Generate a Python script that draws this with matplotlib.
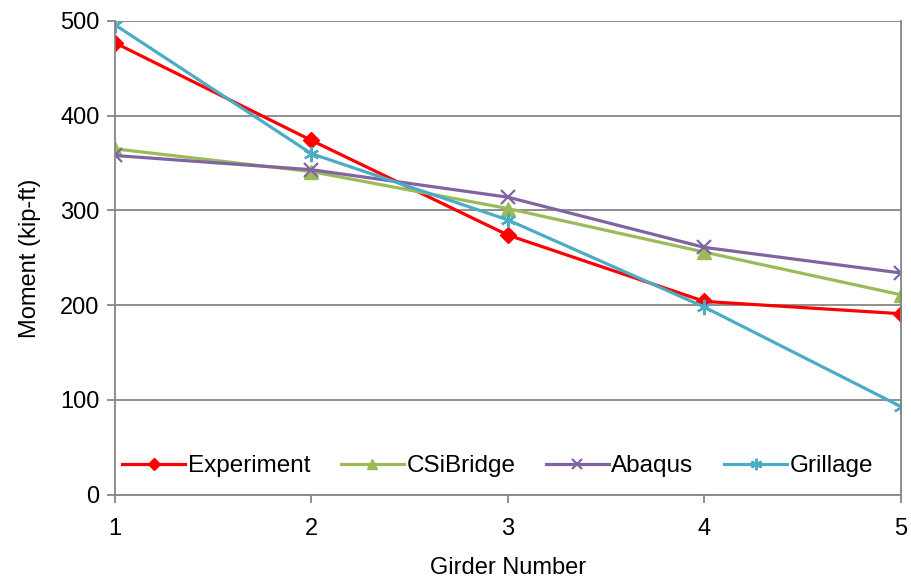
import matplotlib
matplotlib.use("Agg")
import matplotlib.pyplot as plt

plt.rcParams['font.family'] = ['Liberation Sans', 'DejaVu Sans']

girders = [1, 2, 3, 4, 5]
experiment = [477, 374, 274, 204, 191]
csibridge = [365, 341, 302, 256, 211]
abaqus = [358, 343, 314, 261, 234]
grillage = [496, 360, 290, 198, 93]

fig = plt.figure(figsize=(9.11, 5.82), dpi=100)
ax = fig.add_axes([0.126, 0.150, 0.863, 0.814])

lw = 2.3
ax.plot(girders, experiment, color='#FF0000', lw=lw, marker='D', ms=8, label='Experiment')
ax.plot(girders, csibridge, color='#9BBB59', lw=lw, marker='^', ms=10, label='CSiBridge')
ax.plot(girders, abaqus, color='#8064A2', lw=lw, marker='x', ms=10, mew=1.6, label='Abaqus')
ax.plot(girders, grillage, color='#4BACC6', lw=lw, marker=(6, 2, 0), ms=11, mew=1.6, label='Grillage')

ax.set_xlim(1, 5)
ax.set_ylim(0, 500)
ax.set_xticks(girders)
ax.set_yticks(range(0, 501, 100))
ax.grid(axis='y', color='#868686', lw=1.3)
ax.set_axisbelow(True)
for side in ['left', 'bottom', 'right']:
    ax.spines[side].set_color('#868686')
    ax.spines[side].set_linewidth(1.3)
ax.spines['top'].set_visible(False)
ax.tick_params(direction='out', length=6, color='#868686', width=1.3,
               labelsize=17, pad=11)
ax.tick_params(axis='y', pad=5)

ax.set_xlabel('Girder Number', fontsize=17, labelpad=12)
ax.set_ylabel('Moment (kip-ft)', fontsize=17, labelpad=14)

ax.legend(loc='center', bbox_to_anchor=(0.487, 0.06), ncol=4, frameon=False,
          fontsize=17.5, handlelength=2.6, handletextpad=0.1, columnspacing=1.25,
          markerscale=0.75)

fig.savefig('out.png', dpi=100)
